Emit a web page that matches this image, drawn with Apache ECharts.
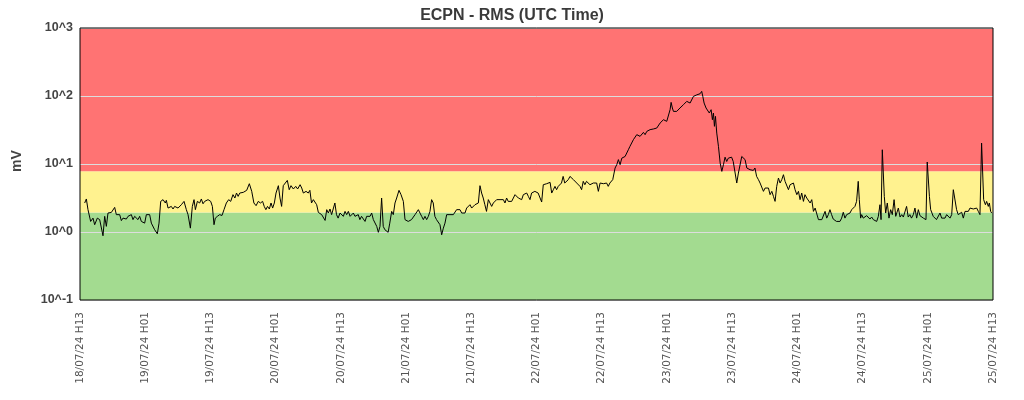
<!DOCTYPE html>
<html>
<head>
<meta charset="utf-8">
<script src="https://cdn.jsdelivr.net/npm/echarts@6/dist/echarts.min.js"></script>
<style>html,body{margin:0;padding:0;background:#fff;}#chart{width:1024px;height:400px;}</style>
</head>
<body>
<div id="chart"></div>
<script>
const chartTitle = 'ECPN - RMS (UTC Time)';
const yAxisName = 'mV';
const tickLabels = ['18/07/24 H13','19/07/24 H01','19/07/24 H13','20/07/24 H01','20/07/24 H13','21/07/24 H01','21/07/24 H13','22/07/24 H01','22/07/24 H13','23/07/24 H01','23/07/24 H13','24/07/24 H01','24/07/24 H13','25/07/24 H01','25/07/24 H13'];
// threshold bands (mV)
const greenBand = [0.1, 1.94];
const yellowBand = [1.94, 7.8];
const redBand = [7.8, 1000];
// RMS samples: [hours since 18/07/24 H13, mV]
const rmsSamples = [
[0.86,2.67],[1.17,3.06],[1.47,2.13],[1.96,1.43],[2.39,1.6],[2.7,1.28],[3.19,1.6],[3.62,1.52],[3.93,1.6],[4.23,0.88],[4.54,1.7],[4.85,1.21],[5.15,1.9],[5.46,1.8],[5.77,1.94],[6.07,1.9],[6.38,2.3],[6.69,1.8],[7.0,1.85],[7.3,1.8],[7.61,1.47],[7.91,1.6],[8.22,1.65],[8.53,1.55],[8.83,1.7],[9.14,1.6],[9.45,1.8],[9.75,1.52],[10.06,1.7],[10.37,1.6],[10.67,1.52],[10.98,1.7],[11.29,1.43],[11.6,1.52],[11.9,1.35],[12.21,1.8],[12.52,1.7],[12.82,1.8],[13.13,1.35],[13.44,1.28],[13.74,1.08],[14.23,0.94],[14.54,1.35],[14.85,2.82],[15.28,2.99],[15.7,2.67],[15.89,2.92],[16.2,2.25],[16.5,2.3],[16.8,2.38],[17.12,2.18],[17.42,2.38],[17.73,2.3],[18.04,2.25],[18.34,2.38],[18.65,2.52],[19.14,2.82],[19.57,2.13],[19.88,1.8],[20.31,1.14],[20.67,2.38],[20.98,2.99],[21.23,2.13],[21.6,2.82],[22.02,2.67],[22.33,3.06],[22.64,2.6],[22.94,2.82],[23.25,2.67],[23.56,2.99],[24.05,2.82],[24.36,2.38],[24.66,1.28],[24.9,1.6],[25.28,1.7],[25.7,1.8],[26.13,1.75],[26.5,2.13],[26.93,2.67],[27.36,2.99],[27.73,2.82],[28.15,3.54],
[28.5,3.16],[28.8,3.74],[29.1,3.34],[29.4,3.74],[30.05,3.83],[30.67,4.10],[31.16,5.13],[31.6,3.96],[32.0,2.67],[32.4,2.44],[32.8,2.82],[33.2,2.67],[33.6,2.82],[33.9,2.38],[34.2,2.13],[34.5,2.38],[34.84,2.18],[35.15,2.67],[35.45,2.25],[35.76,2.67],[36.07,3.74],[36.5,4.80],[36.8,3.16],[37.1,2.38],[37.4,4.80],[37.7,5.13],[38.15,5.74],[38.5,4.19],[38.83,4.80],[39.26,4.29],[39.7,4.69],[40.05,4.29],[40.5,4.96],[40.8,4.43],[41.1,3.74],[41.6,3.96],[42.0,3.74],[42.3,4.10],[42.6,2.67],[42.94,2.99],[43.24,3.16],[43.55,2.52],[43.86,1.94],[44.16,2.01],[44.47,1.80],[44.78,1.70],[45.1,1.48],[45.4,2.13],[45.7,1.90],[46.0,2.18],[46.3,1.80],[46.6,1.90],[46.9,2.67],[47.2,1.80],[47.5,1.60],[47.85,1.90],[48.15,1.80],[48.46,1.70],[48.77,2.01],[49.07,1.80],[49.38,2.01],[49.7,1.70],[50.0,1.80],[50.3,1.90],[50.6,1.70],[50.9,1.60],[51.2,1.80],[51.5,1.52],[51.8,1.70],[52.1,1.80],[52.45,1.43],[52.75,1.70],[53.06,1.60],[53.37,1.70],[53.67,1.90],[53.98,1.52],[54.3,1.43],[54.6,1.21],[54.9,0.99],[55.2,1.21],
[55.5,3.16],[55.8,1.21],[56.1,1.08],[56.4,1.14],[56.7,0.99],[57.0,1.35],[57.35,2.01],[57.65,1.80],[57.96,2.67],[58.27,3.16],[58.7,4.10],[59.07,3.54],[59.5,2.82],[59.8,1.52],[60.1,1.43],[60.4,1.43],[60.7,1.35],[61.0,1.52],[61.35,1.60],[61.65,1.80],[61.95,1.90],[62.26,2.13],[62.56,1.90],[62.87,1.70],[63.18,1.52],[63.48,1.70],[63.79,1.52],[64.1,1.70],[64.4,2.01],[64.7,2.99],[65.0,2.67],[65.3,1.70],[65.6,1.52],[65.94,1.43],[66.24,1.28],[66.55,0.91],[66.86,1.14],[67.16,1.35],[67.47,1.80],[67.78,1.90],[68.08,1.80],[68.4,1.70],[68.7,1.80],[69.0,1.90],[69.3,2.13],[69.6,2.01],[69.92,2.13],[70.23,1.90],[70.54,2.01],[70.84,1.90],[71.15,2.25],[71.46,2.13],[71.76,2.52],[72.07,2.25],[72.38,2.38],[72.68,2.52],[73.0,2.38],[73.3,2.67],[73.6,4.80],[73.9,3.74],[74.2,3.16],[74.5,2.52],[74.8,2.01],[75.14,2.99],[75.45,2.82],[75.75,2.38],[76.06,2.67],[76.37,2.52],[76.67,2.99],[76.98,2.82],[77.29,2.99],[77.6,3.16],[77.9,2.99],[78.2,2.67],[78.5,3.16],[78.8,2.82],[79.13,2.99],[79.43,2.82],[79.74,3.16],[80.05,3.54],[80.35,3.74],[80.66,3.16],[80.97,3.34],[81.27,2.99],[81.58,3.54],[81.9,3.34],[82.2,3.74],[82.5,3.34],[82.8,2.99],
[83.1,3.74],[83.4,3.54],[83.7,3.96],[84.0,4.19],[84.3,3.74],[84.6,3.96],[84.95,2.76],[85.25,4.96],[85.56,5.25],[85.87,5.13],[86.17,5.25],[86.5,5.37],[86.8,3.74],[87.1,4.19],[87.4,4.69],[87.7,4.19],[88.0,4.69],[88.3,4.96],[88.6,5.25],[88.9,6.57],[89.2,5.25],[89.55,5.56],[89.85,5.88],[90.16,6.57],[90.47,6.22],[90.8,5.88],[91.08,6.22],[91.4,5.25],[91.7,5.56],[92.0,4.69],[92.3,4.19],[92.6,5.56],[92.9,4.96],[93.2,5.56],[93.5,5.25],[93.84,4.96],[94.15,5.1],[94.46,5.25],[94.76,4.96],[95.07,5.25],[95.38,3.96],[95.7,5.25],[96.0,5.56],[96.3,5.13],[96.6,4.96],[96.9,5.25],[97.2,4.69],[97.5,5.25],[97.83,5.25],
[98.03,5.88],[98.46,8.72],[98.77,9.77],[99.07,11.6],[99.38,9.77],[99.7,12.2],[100.0,11.6],[100.3,12.9],[100.6,12.2],[100.9,16.2],[101.2,18.2],[101.5,19.2],[101.83,22.8],[102.14,24.1],[102.45,27.0],[102.76,28.5],[103.06,25.5],[103.37,27.0],[103.68,29.2],[103.98,27.0],[104.3,30.2],[104.6,28.5],[104.9,32.0],[105.2,30.2],[105.5,32.7],[105.8,32.0],[106.13,33.8],[106.44,35.8],[106.74,40.0],[107.05,42.4],[107.36,44.8],[107.66,47.4],[107.97,42.4],[108.28,42.4],[108.58,62.9],[108.77,80.6],[109.0,66.6],[109.2,59.4],[109.5,57.5],[109.8,59.4],[110.1,62.9],[110.4,66.6],[110.7,70.4],[111.04,74.5],[111.34,78.8],[111.65,83.4],[111.96,88.2],[112.26,78.8],[112.57,74.5],[112.88,98.8],[113.18,101],[113.5,104],[113.8,104],[114.1,108],[114.4,117],[114.6,98.8],[114.84,78.8],[115.2,66.6],[115.45,70.4],[115.8,56.2],[116.13,62.9],[116.37,44.8],[116.56,56.2],[116.74,35.8],[116.93,50.2],[117.17,28.5],[117.48,18.2],[117.8,10.3],[118.1,7.79],
[118.4,9.77],[118.7,12.6],[119.0,10.9],[119.3,12.2],[119.6,11.6],[119.9,12.6],[120.2,10.9],[120.5,11.6],[120.85,5.25],[121.15,7.36],[121.46,7.79],[121.77,12.9],[122.07,12.9],[122.38,11.6],[122.7,8.72],[123.0,9.23],[123.3,8.24],[123.6,8.72],[123.9,8.05],[124.2,8.72],[124.5,6.58],[124.84,5.88],[125.14,5.25],[125.45,5.56],[125.76,3.96],[126.06,4.43],[126.37,4.19],[126.68,4.43],[126.98,3.54],[127.3,3.96],[127.6,3.34],[127.9,2.82],[128.2,4.69],[128.52,6.22],[128.82,5.25],[129.13,5.88],[129.44,6.96],[129.74,5.56],[130.05,5.25],[130.36,4.19],[130.66,4.96],[130.97,4.69],[131.28,5.25],[131.58,4.19],[131.9,3.54],[132.2,3.96],[132.5,2.99],[132.8,3.74],[133.12,2.82],[133.4,3.54],[133.73,3.16],[134.04,3.34],[134.35,2.67],[134.65,2.99],[134.96,2.01],[135.27,2.25],[135.57,2.13],[135.88,1.52],[136.2,1.52],[136.5,1.52],[136.8,1.60],[137.1,2.01],[137.4,1.60],[137.7,1.80],
[138.0,2.13],[138.3,1.80],[138.6,1.55],[138.9,1.60],[139.2,1.43],[139.5,1.52],[139.84,1.43],[140.15,1.60],[140.45,1.95],[140.76,1.60],[141.07,1.80],[141.37,1.70],[141.68,1.90],[142.0,2.13],[142.3,2.25],[142.6,2.38],[142.9,2.82],[143.2,5.56],[143.4,2.99],[143.64,1.60],[143.83,1.80],[144.13,1.60],[144.44,1.52],[144.75,1.74],[145.06,1.66],[145.36,1.55],[145.67,1.66],[145.98,1.52],[146.28,1.60],[146.6,1.43],[146.9,1.70],[147.2,2.52],[147.4,1.52],[147.63,16.2],[147.8,16.6],[148.0,3.34],[148.25,1.90],[148.55,2.67],[148.86,1.60],[149.17,2.13],[149.47,1.80],[149.8,2.99],[150.1,1.70],[150.4,1.80],[150.58,2.25],[150.9,1.66],[151.2,1.80],[151.5,1.66],[151.8,1.74],[152.1,2.38],[152.4,1.66],[152.7,1.80],[153.0,1.60],[153.34,1.80],[153.64,2.25],[153.95,1.60],[154.26,2.13],[154.56,1.74],[154.87,1.80],[155.18,1.60],[155.5,1.70],[155.67,1.52],[155.9,10.7],[156.1,10.7],[156.3,3.34],[156.53,2.13],[156.77,1.90],[157.0,1.70],[157.3,1.60],[157.6,1.52],[157.94,1.43],[158.25,1.90],[158.55,1.60],[158.86,1.70],[159.17,1.60],[159.47,1.80],[159.78,1.70],[160.09,1.60],[160.4,1.80],[160.7,4.19],[161.0,3.96],[161.3,2.13],[161.6,1.80],[161.93,1.80],[162.23,1.95],[162.54,1.60],[162.85,2.01],[163.15,2.13],[163.46,2.01],[163.77,2.25],[164.07,2.13],[164.38,2.18],[164.7,2.13],[165.0,2.25],[165.3,2.01],[165.6,1.80],[165.9,20.3],[166.1,19.2],[166.28,2.99],[166.6,2.52],[166.83,2.82],[167.14,2.38],[167.33,2.67],[167.57,2.01],[167.75,1.90]
];

const FONT = '"Liberation Sans", Arial, sans-serif';
const chart = echarts.init(document.getElementById('chart'), null, {renderer: 'canvas'});
chart.setOption({
  animation: false,
  backgroundColor: '#ffffff',
  title: {
    text: chartTitle, left: 'center', top: 3,
    textStyle: {fontFamily: FONT, fontSize: 16, fontWeight: 'bold', color: '#3a3a3a'}
  },
  grid: {left: 80, right: 31, top: 28, bottom: 100, show: true, z: 10,
         outerBoundsMode: 'none', containLabel: false,
         backgroundColor: 'rgba(0,0,0,0)', borderColor: '#000', borderWidth: 1},
  xAxis: {
    type: 'value', min: 0, max: 168, interval: 12,
    axisLine: {show: false}, axisTick: {show: false}, splitLine: {show: false},
    axisLabel: {
      rotate: 90, margin: 12, fontFamily: '"DejaVu Sans", sans-serif', fontSize: 10.5, color: '#555',
      showMinLabel: true, showMaxLabel: true,
      formatter: v => tickLabels[Math.round(v / 12)] || ''
    }
  },
  yAxis: {
    type: 'log', logBase: 10, min: 0.1, max: 1000, z: 3,
    name: yAxisName, nameLocation: 'middle', nameGap: 56, nameRotate: 90,
    nameTextStyle: {fontFamily: FONT, fontSize: 14, fontWeight: 'bold', color: '#444', padding: [0, 0, 0, 6]},
    axisLine: {show: false}, axisTick: {show: false},
    splitLine: {show: true, lineStyle: {color: '#dddddd', width: 1}},
    axisLabel: {
      fontFamily: FONT, fontSize: 12.5, fontWeight: 'bold', color: '#444', margin: 7,
      formatter: v => '10^' + Math.round(Math.log10(v))
    }
  },
  series: [
    {
      type: 'line', data: [], z: 1, silent: true,
      markArea: {
        silent: true,
        data: [
          [{yAxis: greenBand[0], itemStyle: {color: '#a3db90', opacity: 1}}, {yAxis: greenBand[1]}],
          [{yAxis: yellowBand[0], itemStyle: {color: '#fff28f', opacity: 1}}, {yAxis: yellowBand[1]}],
          [{yAxis: redBand[0], itemStyle: {color: '#ff7373', opacity: 1}}, {yAxis: redBand[1]}]
        ]
      }
    },
    {
      type: 'line', data: rmsSamples, z: 5, showSymbol: false, symbol: 'none',
      lineStyle: {color: '#000', width: 1}, itemStyle: {color: '#000'}
    }
  ]
});
</script>
</body>
</html>
